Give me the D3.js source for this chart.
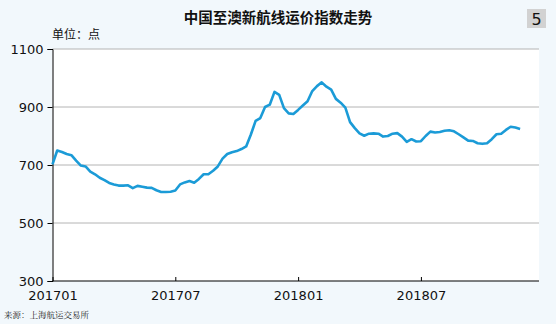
<!DOCTYPE html>
<html><head><meta charset="utf-8">
<script src="https://cdn.jsdelivr.net/npm/d3@7"></script>
<style>body{margin:0;background:#f2f8fc;}svg{display:block;}</style>
</head><body>
<svg id="c" width="556" height="324"></svg>
<script>
const values = [702,750,745,738,734,715,698,695,677,668,656,648,638,633,629,629,630,620,628,625,
622,621,613,607,607,608,612,633,640,645,639,652,668,668,680,695,722,738,744,748,
755,764,805,852,862,900,908,952,942,896,878,876,890,905,920,955,972,985,970,960,
928,915,898,848,827,809,801,808,809,808,798,800,808,810,798,780,789,781,782,800,
815,812,814,818,820,816,806,795,784,783,775,773,775,789,806,808,821,832,829,824];
const tickLabels = ["201701","201707","201801","201807"];
const tickIndex = [0,26,52,78];
const yTicks = [300,500,700,900,1100];
const title = "中国至澳新航线运价指数走势";
const unit = "单位：点";
const source = "来源：上海航运交易所";

const svg = d3.select("#c");
const L=52.5, R=539, T=49, B=281;
svg.append("rect").attr("x",0).attr("y",0).attr("width",556).attr("height",324).attr("fill","#f2f8fc");
svg.append("rect").attr("x",L).attr("y",T).attr("width",R-L).attr("height",B-T).attr("fill","#fff");

const x = d3.scaleLinear().domain([0,103]).range([L,R]);
const y = d3.scaleLinear().domain([300,1100]).range([B,T]);

// gridlines
svg.append("g").selectAll("line").data(yTicks.filter(d=>d>300)).join("line")
  .attr("x1",L).attr("x2",R).attr("y1",d=>y(d)).attr("y2",d=>y(d))
  .attr("stroke","#b4b4b4").attr("stroke-width",1);

const font = "'Noto Sans CJK SC','DejaVu Sans',sans-serif";
// y axis
const ya = svg.append("g").attr("transform",`translate(${L},0)`)
  .call(d3.axisLeft(y).tickValues(yTicks).tickSize(5).tickPadding(4).tickFormat(d3.format("d")));
ya.select(".domain").attr("stroke","#000");
ya.selectAll("text").attr("font-family","'DejaVu Sans',sans-serif").attr("font-size",13).attr("fill","#111");

// x axis
const xa = svg.append("g").attr("transform",`translate(0,${B})`)
  .call(d3.axisTop(x).tickValues(tickIndex).tickSize(4).tickFormat((d,i)=>tickLabels[i]));
xa.select(".domain").attr("stroke","#000").attr("d",`M${L},0H${R}`);
xa.selectAll("text").attr("font-family","'DejaVu Sans',sans-serif").attr("font-size",13).attr("fill","#111")
  .attr("y",19).attr("dy","0");

// line
svg.append("path").datum(values)
  .attr("fill","none").attr("stroke","#1b9bd7").attr("stroke-width",2.6).attr("stroke-linejoin","round")
  .attr("d",d3.line().x((d,i)=>x(i)).y(d=>y(d)));

// texts
svg.append("text").attr("x",278).attr("y",23).attr("text-anchor","middle")
  .attr("font-family",font).attr("font-weight","bold").attr("font-size",14.5).attr("fill","#111").text(title);
svg.append("text").attr("x",52).attr("y",39)
  .attr("font-family",font).attr("font-size",12).attr("fill","#111").text(unit);
svg.append("rect").attr("x",527).attr("y",9).attr("width",19).attr("height",19).attr("fill","#d2d2d2");
svg.append("text").attr("x",536.5).attr("y",25).attr("text-anchor","middle")
  .attr("font-family","'DejaVu Sans',sans-serif").attr("font-size",16).attr("fill","#111").text("5");
svg.append("text").attr("x",4).attr("y",318)
  .attr("font-family","'Noto Serif CJK SC','Noto Sans CJK SC',serif").attr("font-size",8.5).attr("fill","#222").text(source);
</script>
</body></html>
